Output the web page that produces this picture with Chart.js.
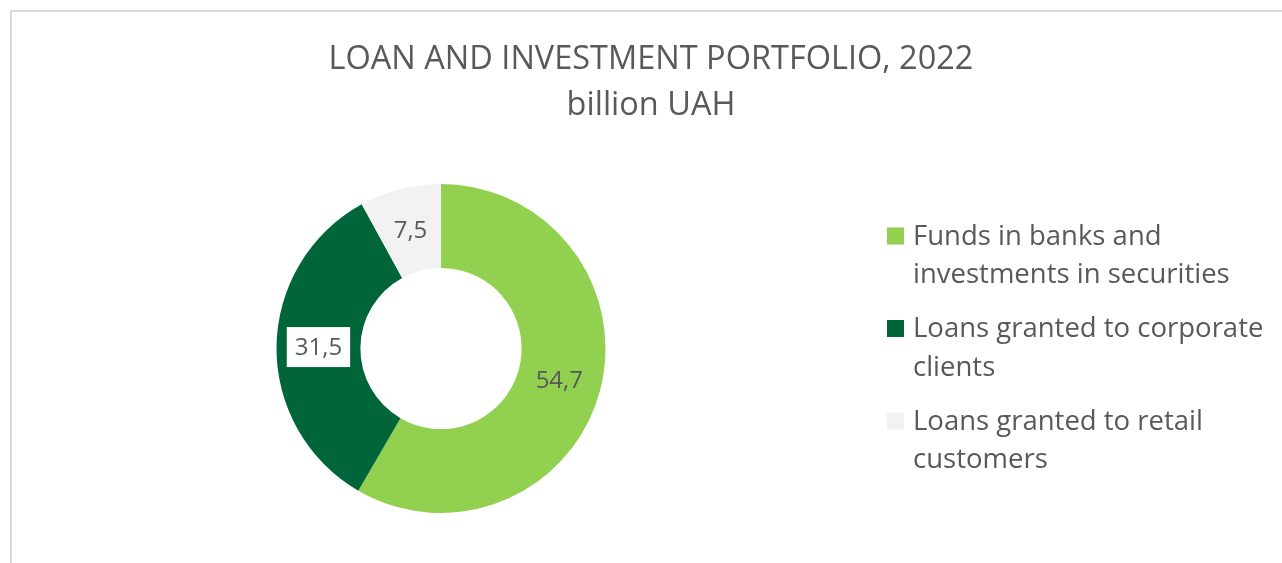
<!DOCTYPE html>
<html>
<head>
<meta charset="utf-8">
<title>Loan and investment portfolio, 2022</title>
<script src="https://cdn.jsdelivr.net/npm/chart.js@4.4.1/dist/chart.umd.min.js"></script>
<style>
    html, body { margin: 0; padding: 0; overflow: hidden; background: #fff; }
    #frame { position: absolute; left: 10px; top: 10px; width: 1320px; height: 620px; border: 2px solid #d9d9d9; }
    #wrap { position: absolute; left: 0; top: 0; width: 1282px; height: 563px; }
</style>
</head>
<body>
<div id="frame"></div>
<div id="wrap"><canvas id="portfolioChart"></canvas></div>
<script>
const titleLines = ['LOAN AND INVESTMENT PORTFOLIO, 2022', 'billion UAH'];
const categories = [
    ['Funds in banks and', 'investments in securities'],
    ['Loans granted to corporate', 'clients'],
    ['Loans granted to retail', 'customers']
];
const values = [54.7, 31.5, 7.5];
const sliceColors = ['#92D050', '#00663A', '#F2F2F2'];

const FONT = '"Open Sans", "Noto Sans", sans-serif';
const TEXT = '#595959';

// value labels inside the ring (comma as decimal separator)
const sliceLabels = {
    id: 'sliceLabels',
    afterDatasetsDraw(chart) {
        const ctx = chart.ctx;
        const meta = chart.getDatasetMeta(0);
        ctx.save();
        ctx.font = '24px ' + FONT;
        ctx.textAlign = 'center';
        ctx.textBaseline = 'middle';
        meta.data.forEach((arc, i) => {
            const pos = arc.tooltipPosition();
            const txt = values[i].toFixed(1).replace('.', ',');
            if (i === 1) {
                // the dark slice gets a white label box
                const w = ctx.measureText(txt).width + 16;
                ctx.fillStyle = '#ffffff';
                ctx.fillRect(pos.x - w / 2, pos.y - 20, w, 40);
            }
            ctx.fillStyle = TEXT;
            ctx.fillText(txt, pos.x, pos.y + 1);
        });
        ctx.restore();
    }
};

// legend as a layout box on the right, so the title still spans the full width
const sideLegend = {
    id: 'sideLegend',
    beforeInit(chart) {
        const box = {
            position: 'right',
            weight: 1000,
            fullSize: false,
            options: {},
            isHorizontal() { return false; },
            update(maxWidth, maxHeight) {
                this.width = 420;
                this.height = maxHeight;
            },
            draw() {
                const ctx = chart.ctx;
                const x0 = this.left + 25, y0 = 237, lineH = 38.5, itemGap = 92.5, sq = 17;
                ctx.save();
                ctx.font = '27.5px ' + FONT;
                ctx.textBaseline = 'middle';
                ctx.textAlign = 'left';
                chart.data.labels.forEach((lines, i) => {
                    const y = y0 + i * itemGap;
                    ctx.fillStyle = sliceColors[i];
                    ctx.fillRect(x0, y - 1 - sq / 2, sq, sq);
                    ctx.fillStyle = TEXT;
                    lines.forEach((ln, j) => ctx.fillText(ln, x0 + 26, y + j * lineH));
                });
                ctx.restore();
            }
        };
        Chart.layouts.addBox(chart, box);
    }
};

new Chart(document.getElementById('portfolioChart'), {
    type: 'doughnut',
    data: {
        labels: categories,
        datasets: [{
            data: values,
            backgroundColor: sliceColors,
            borderWidth: 0,
            hoverOffset: 0
        }]
    },
    options: {
        responsive: true,
        maintainAspectRatio: false,
        animation: false,
        cutout: '49%',
        layout: { padding: { left: 20, right: 0, top: 0, bottom: 50 } },
        plugins: {
            legend: { display: false },
            tooltip: { enabled: false },
            title: {
                display: true,
                text: titleLines,
                color: TEXT,
                font: { family: FONT, size: 32.5, weight: 'normal', lineHeight: 46.5 / 32.5 },
                padding: { top: 36, bottom: 55 }
            }
        }
    },
    plugins: [sliceLabels, sideLegend]
});
</script>
</body>
</html>
